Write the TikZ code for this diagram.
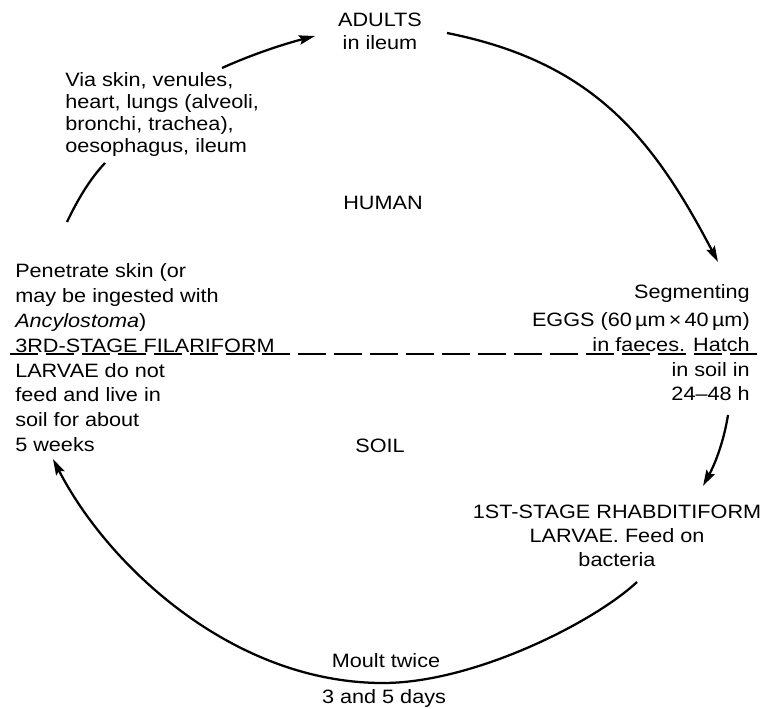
\documentclass[tikz,border=0pt]{standalone}
\usepackage{fontspec}
\setmainfont{Liberation Sans}[FakeStretch=1.12]
\usetikzlibrary{arrows.meta, positioning}
\tikzset{
    lbl/.style={inner sep=0pt, font=\fontsize{14.5}{18}\selectfont},
    lblL/.style={lbl, align=left, anchor=north west},
    lblR/.style={lbl, align=right, anchor=north east},
    lblC/.style={lbl, align=center, anchor=north},
    cyc/.style={line width=1.7pt, black},
    arr/.style={cyc, -{Stealth[length=12pt, width=7pt, inset=2pt]}},
    divider/.style={line width=1.5pt, dash pattern=on 21pt off 6pt}
}

\begin{document}
\begin{tikzpicture}[x=0.75pt, y=-0.75pt]
        \useasboundingbox (0,0) rectangle (763,709);
        % hosts
        \node[lbl, anchor=base] (human) at (383,210) {HUMAN};
        \node[lbl, anchor=base] (soil) at (380,452) {SOIL};
        \draw[divider] (10,354) -- (757,354);
        % stages of the cycle
        \node[lblC, font=\fontsize{14.5}{17}\selectfont] (adults) at (380,13) {ADULTS\\in ileum};
        \node[lblR, font=\fontsize{14.5}{18.5}\selectfont] (eggs) at (750,284) {Segmenting\\[3pt]EGGS (60\,µm\,×\,40\,µm)\\in faeces. Hatch\\in soil in\\24–48 h};
        \node[lblC] (rhab) at (617,505) {1ST-STAGE RHABDITIFORM\\LARVAE. Feed on\\bacteria};
        \node[lblL, font=\fontsize{14.5}{18.7}\selectfont] (filar) at (15,263) {Penetrate skin (or\\may be ingested with\\\textit{Ancylostoma})\\3RD-STAGE FILARIFORM\\LARVAE do not\\feed and live in\\soil for about\\5 weeks};
        \node[lblL, font=\fontsize{14.5}{16.5}\selectfont] (route) at (65,72) {Via skin, venules,\\heart, lungs (alveoli,\\bronchi, trachea),\\oesophagus, ileum};
        \node[lbl, anchor=base] (moult) at (386,667) {Moult twice};
        \node[lbl, anchor=base] (days) at (384,703) {3 and 5 days};
        % ends of the arcs
        \coordinate (routeOut) at (222,68);
        \coordinate (adultsIn) at (315,36);
        \coordinate (adultsOut) at (447,33);
        \coordinate (eggsIn) at (718,262);
        \coordinate (eggsOut) at (728,415);
        \coordinate (rhabIn) at (703,486);
        \coordinate (rhabOut) at (637,582);
        \coordinate (moultMid) at (383,683);
        \coordinate (filarIn) at (53,459);
        \coordinate (filarOut) at (67,222);
        \coordinate (routeIn) at (105,163);
        % the cycle
        \draw[arr] (routeOut) .. controls (253,54) and (284,44) .. (adultsIn);
        \draw[arr] (adultsOut) .. controls (592,62) and (652,136) .. (eggsIn);
        \draw[arr] (eggsOut) .. controls (724,440) and (716,462) .. (rhabIn);
        \draw[arr] (rhabOut) .. controls (593,623) and (473,683) .. (moultMid)
                   .. controls (233,683) and (108,566) .. (filarIn);
        \draw[cyc] (filarOut) .. controls (77,201) and (89,180) .. (routeIn);
    \end{tikzpicture}
\end{document}
